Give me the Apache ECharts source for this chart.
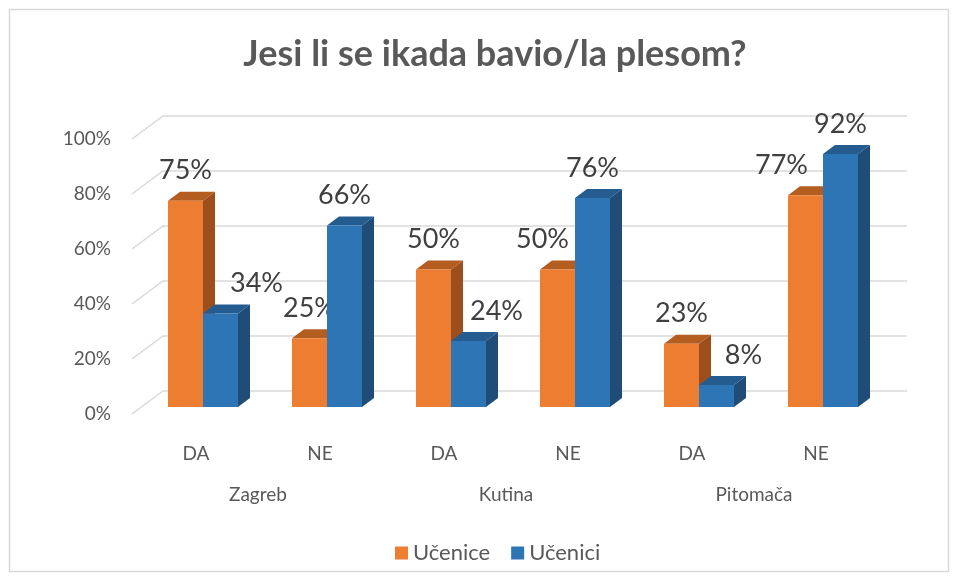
<!DOCTYPE html>
<html><head><meta charset="utf-8">
<script src="https://cdn.jsdelivr.net/npm/echarts@6/dist/echarts.min.js"></script>
<style>html,body{margin:0;padding:0;background:#fff}#c{width:958px;height:581px}</style>
</head><body><div id="c"></div>
<script>
// ---- data ----
const categories = ['DA', 'NE', 'DA', 'NE', 'DA', 'NE'];
const groups = ['Zagreb', 'Kutina', 'Pitomača'];
const ucenice = [75, 25, 50, 50, 23, 77];
const ucenici = [34, 66, 24, 76, 8, 92];
const yTicks = [0, 20, 40, 60, 80, 100];
const seriesNames = ['Učenice', 'Učenici'];
const titleText = 'Jesi li se ikada bavio/la plesom?';

// ---- style ----
const FONT = 'Lato, "Open Sans", sans-serif';
const palette = {
  'Učenice': { front: '#ED7D31', top: '#B35D21', side: '#9C4F1C' },
  'Učenici': { front: '#2E75B6', top: '#245C90', side: '#1F4D78' }
};
const labelNudge = { 'Učenice': [0, 0, 0, -15, 0, -24], 'Učenici': [36, 0, 28, 0, 27, 0] };
const BAR_W = 35, DEPTH_X = 12, DEPTH_Y = 9, PAIR_SHIFT = 7;
const WALL_DX = 31, WALL_DY = 23;

function barRender(name, sideSign) {
  return function (params, api) {
    const idx = api.value(0), val = api.value(1);
    const top = api.coord([idx, val]);
    const base = api.coord([idx, 0]);
    const xc = top[0] + PAIR_SHIFT;
    const x0 = sideSign < 0 ? xc - BAR_W : xc;
    const x1 = x0 + BAR_W;
    const yt = top[1], yb = base[1];
    const c = palette[name];
    const nudge = labelNudge[name][params.dataIndex] || 0;
    return {
      type: 'group', children: [
        { type: 'polygon', shape: { points: [[x1, yt], [x1 + DEPTH_X, yt - DEPTH_Y], [x1 + DEPTH_X, yb - DEPTH_Y], [x1, yb]] }, style: { fill: c.side } },
        { type: 'polygon', shape: { points: [[x0, yt], [x1, yt], [x1 + DEPTH_X, yt - DEPTH_Y], [x0 + DEPTH_X, yt - DEPTH_Y]] }, style: { fill: c.top } },
        { type: 'rect', shape: { x: x0, y: yt, width: BAR_W, height: yb - yt }, style: { fill: c.front } },
        { type: 'text', z2: 10, style: { text: val + '%', x: (x0 + x1) / 2 + nudge, y: yt - 30, align: 'center', verticalAlign: 'middle', fill: '#404040', fontSize: 27, fontFamily: FONT } }
      ]
    };
  };
}

function gridRender(params, api) {
  const v = api.value(1);
  const p = api.coord([0, v]);
  const cs = params.coordSys;
  const right = cs.x + cs.width;
  return {
    type: 'polyline',
    shape: { points: [[p[0], p[1]], [p[0] + WALL_DX, p[1] - WALL_DY], [right, p[1] - WALL_DY]] },
    style: { stroke: '#D9D9D9', lineWidth: 1.5, fill: null }
  };
}

const chart = echarts.init(document.getElementById('c'), null, { renderer: 'canvas' });
chart.setOption({
  animation: false,
  backgroundColor: '#fff',
  title: {
    text: titleText, left: 490, textAlign: 'center', top: 31,
    textStyle: { fontSize: 36, fontWeight: 'bold', color: '#595959', fontFamily: FONT }
  },
  graphic: [{
    type: 'rect', shape: { x: 9.5, y: 9.5, width: 939, height: 562 },
    style: { fill: null, stroke: '#D9D9D9', lineWidth: 1.5 }, silent: true
  }],
  legend: {
    data: seriesNames, left: 390, top: 537, icon: 'rect', itemWidth: 13, itemHeight: 13, itemGap: 21,
    textStyle: { fontSize: 22, color: '#595959', fontFamily: FONT }
  },
  grid: [
    { left: 134, width: 744, top: 132, height: 275 },
    { left: 132, width: 775, top: 139, height: 275 }
  ],
  xAxis: [
    { type: 'category', gridIndex: 0, data: categories, axisLine: { show: false }, axisTick: { show: false },
      axisLabel: { fontSize: 19, color: '#595959', fontFamily: FONT, margin: 37 } },
    { type: 'category', gridIndex: 0, data: groups, position: 'bottom', axisLine: { show: false }, axisTick: { show: false },
      axisLabel: { fontSize: 19, color: '#595959', fontFamily: FONT, margin: 78 } },
    { type: 'value', gridIndex: 1, min: 0, max: 1, show: false }
  ],
  yAxis: [
    { type: 'value', gridIndex: 0, min: 0, max: 100, show: false },
    { type: 'value', gridIndex: 1, min: 0, max: 100, interval: 20,
      axisLine: { show: false }, axisTick: { show: false }, splitLine: { show: false },
      axisLabel: { formatter: '{value}%', fontSize: 19, color: '#595959', fontFamily: FONT, margin: 21 } }
  ],
  series: [
    { type: 'custom', name: 'wall', xAxisIndex: 2, yAxisIndex: 1, silent: true, z: 1,
      renderItem: gridRender, data: yTicks.map(v => [0, v]) },
    { type: 'custom', name: seriesNames[0], xAxisIndex: 0, yAxisIndex: 0, z: 2,
      itemStyle: { color: palette[seriesNames[0]].front },
      renderItem: barRender(seriesNames[0], -1), data: ucenice.map((v, i) => [i, v]) },
    { type: 'custom', name: seriesNames[1], xAxisIndex: 0, yAxisIndex: 0, z: 3,
      itemStyle: { color: palette[seriesNames[1]].front },
      renderItem: barRender(seriesNames[1], 1), data: ucenici.map((v, i) => [i, v]) }
  ]
});
</script></body></html>
